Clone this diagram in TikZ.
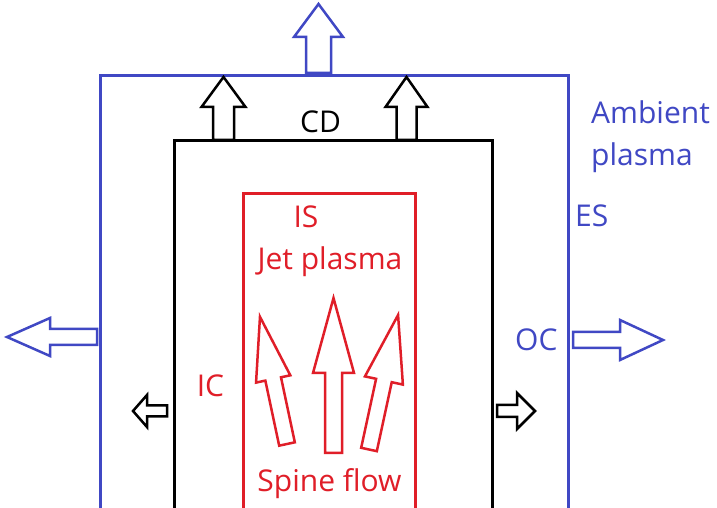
\documentclass[tikz,border=0pt]{standalone}
\usepackage{fontspec}
\setmainfont{Open Sans}
\usepackage{tikz}
\usetikzlibrary{positioning}
\definecolor{esblue}{RGB}{64,72,196}
\definecolor{jetred}{RGB}{224,30,40}
\tikzset{
    bluewall/.style={draw=esblue, line width=3pt},
    blackwall/.style={draw=black, line width=3pt},
    redwall/.style={draw=jetred, line width=3pt},
    bluearr/.style={draw=esblue, line width=2.5pt, fill=white},
    blackarr/.style={draw=black, line width=2.5pt, fill=white},
    redarr/.style={draw=jetred, line width=2.5pt, fill=white},
    lbl/.style={inner sep=0pt, font=\fontsize{30}{42}\selectfont},
    bluelbl/.style={lbl, text=esblue},
    redlbl/.style={lbl, text=jetred},
    blacklbl/.style={lbl, text=black}
}
% base point, angle, length, shaft half width, head half width, head length
\newcommand{\blockarr}[7]{%
    \draw[#1, shift={#2}, rotate=#3] (-#5,0) -- (-#5,#4-#7) -- (-#6,#4-#7) -- (0,#4)
        -- (#6,#4-#7) -- (#5,#4-#7) -- (#5,0) -- cycle;}

\begin{document}
\begin{tikzpicture}[x=1pt, y=1pt]
    \fill[white] (0,0) rectangle (717,508);
    \clip (0,0) rectangle (717,508);

    % regions
    \draw[bluewall] (100,-10) -- (100,432.5) -- (568,432.5) -- (568,-10);
    \draw[blackwall] (174,-10) -- (174,367) -- (492,367) -- (492,-10);
    \draw[redwall] (243,-10) -- (243,314) -- (415,314) -- (415,-10);

    % outflow of the cocoon
    \blockarr{bluearr}{(318.5,435)}{0}{69}{12.5}{24.5}{33}
    \blockarr{bluearr}{(97,171)}{90}{90}{8}{19}{43}
    \blockarr{bluearr}{(573,168)}{-90}{90}{8}{20}{43}
    \blockarr{blackarr}{(223.5,368)}{0}{63}{10.5}{22}{30}
    \blockarr{blackarr}{(406.5,368)}{0}{63}{10}{21}{30}
    \blockarr{blackarr}{(167,97)}{90}{34}{5.5}{16}{14}
    \blockarr{blackarr}{(497,97)}{-90}{38}{6}{18}{18}

    % spine flow
    \blockarr{redarr}{(287,64)}{12}{130}{8}{17.5}{63.5}
    \blockarr{redarr}{(333.5,55)}{0}{155}{8.5}{20.5}{75}
    \blockarr{redarr}{(369,58.5)}{-12.2}{137.6}{8}{19.4}{67}

    % labels
    \node (ambient) [bluelbl, align=left, anchor=north west] at (591,407) {Ambient\\plasma};
    \node (es) [bluelbl, anchor=base west] at (575,281) {ES};
    \node (oc) [bluelbl, anchor=west] at (515,168) {OC};
    \node (cd) [blacklbl, anchor=base] at (320.5,375) {CD};
    \node (is) [redlbl, anchor=base] at (306,280) {IS};
    \node (jet) [redlbl, anchor=base] at (330,238) {Jet plasma};
    \node (ic) [redlbl, anchor=base] at (210.5,111) {IC};
    \node (spine) [redlbl, anchor=base] at (329.5,16) {Spine flow};
\end{tikzpicture}
\end{document}
